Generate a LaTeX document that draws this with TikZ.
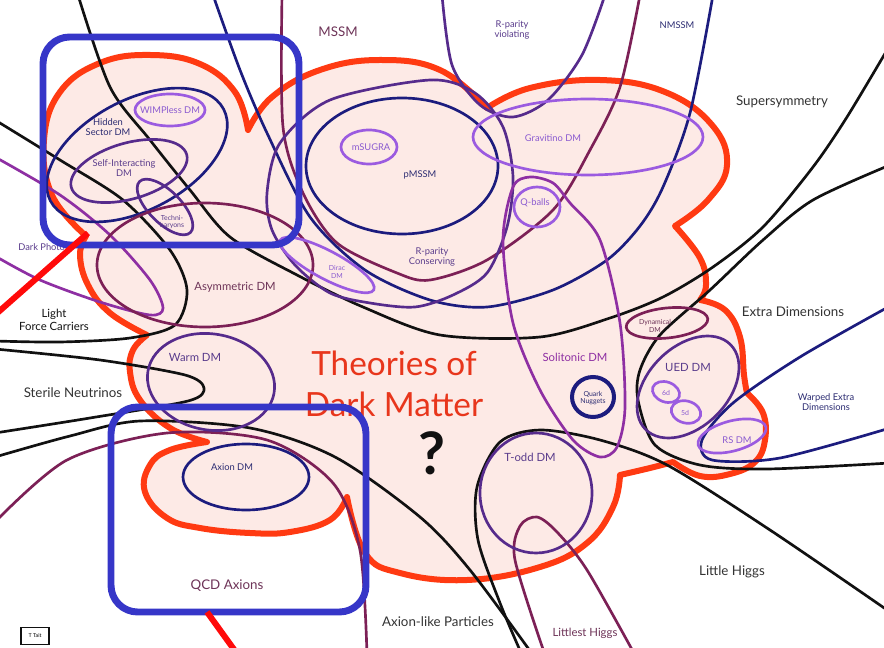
\documentclass[tikz,border=0pt]{standalone}
\usepackage{fontspec}
\setmainfont{Lato}
\usetikzlibrary{positioning}
\definecolor{ink}{HTML}{111111}
\definecolor{navy}{HTML}{1C1C7E}
\definecolor{indigo}{HTML}{562B8C}
\definecolor{lilac}{HTML}{9B5BE0}
\definecolor{plum}{HTML}{7C2056}
\definecolor{orchid}{HTML}{8E2FA3}
\definecolor{blobline}{HTML}{FF3A12}
\definecolor{blobfill}{HTML}{FDEAE6}
\definecolor{hilite}{HTML}{3636C8}
\definecolor{pointer}{HTML}{FF0A0A}
\definecolor{grey}{HTML}{333333}
\definecolor{txtplum}{HTML}{6E3458}
\definecolor{txtlilac}{HTML}{8A5AD0}
\definecolor{txtindigo}{HTML}{5A3C8C}
\definecolor{txtnavy}{HTML}{2C2C72}
\definecolor{txtred}{HTML}{E8361C}

\tikzset{
  wire/.style={line width=2pt},
  lblbig/.style={font=\fontsize{10}{11}\selectfont, text=grey, align=center, inner sep=0pt},
  lblmid/.style={font=\fontsize{8.5}{9.5}\selectfont, align=center, inner sep=0pt},
  lblsmall/.style={font=\fontsize{7}{7.8}\selectfont, align=center, inner sep=0pt},
  lbltiny/.style={font=\fontsize{5.2}{5.8}\selectfont, align=center, inner sep=0pt},
  hibox/.style={draw=hilite, line width=5.2pt, rounded corners=20pt},
  pointerline/.style={draw=pointer, line width=4.5pt},
}

\begin{document}
\begin{tikzpicture}[x=0.75pt,y=-0.75pt]
\useasboundingbox (0,0) rectangle (884,648);
\clip (0,0) rectangle (884,648);
\fill[white] (0,0) rectangle (884,648);

% the cloud
\path[draw=blobline, fill=blobfill, line width=4.5pt, line join=round]
  plot[smooth, tension=0.7] coordinates {(86,236) (52,195) (44,140) (60,92) (100,63) (150,55) (200,64) (235,92) (248,130)}
  -- plot[smooth, tension=0.7] coordinates {(248,130) (272,97) (320,70) (380,60) (440,70) (487,108)}
  -- plot[smooth, tension=0.7] coordinates {(487,108) (530,88) (600,80) (665,92) (712,125) (727,165) (708,200) (675,226)}
  -- plot[smooth, tension=0.7] coordinates {(675,226) (700,258) (706,285) (700,300)}
  -- plot[smooth, tension=0.7] coordinates {(700,300) (725,310) (740,337) (744,375) (747,393)}
  -- plot[smooth, tension=0.7] coordinates {(747,393) (763,413) (765,440) (755,462) (730,474) (700,476) (673,462)}
  -- plot[smooth, tension=0.7] coordinates {(673,462) (650,468) (620,475)}
  -- plot[smooth, tension=0.7] coordinates {(620,475) (613,507) (587,543) (540,567) (467,580) (400,573) (365,553) (347,497)}
  -- plot[smooth, tension=0.7] coordinates {(347,497) (330,520) (290,532) (250,533) (200,528) (167,518) (145,492) (150,465) (170,450) (207,442)}
  -- plot[smooth, tension=0.7] coordinates {(207,442) (170,428) (140,400) (130,372) (133,350) (147,335)}
  -- plot[smooth, tension=0.7] coordinates {(147,335) (110,313) (88,285) (80,255) (86,236)}
  -- cycle;

% black boundaries
\draw[wire, ink] plot[smooth] coordinates {(78,-5) (110,87) (150,140) (190,190) (230,237) (297,275) (363,307) (440,335) (540,337) (610,318) (663,297) (713,267) (763,227) (813,167) (847,117) (890,45)};
\draw[wire, ink] plot[smooth] coordinates {(890,165) (813,200) (763,240) (710,290) (660,335) (640,370) (638,400) (655,445) (700,465) (767,469) (890,463)};
\draw[wire, ink] plot[smooth] coordinates {(-5,120) (60,160) (123,200) (170,250) (187,290) (175,325) (130,338) (60,342) (-5,341)};
\draw[wire, ink] plot[smooth] coordinates {(-5,349) (100,360) (185,375) (204,388) (188,401) (90,418) (-5,433)};
\draw[wire, ink] plot[smooth] coordinates {(-5,457) (70,436) (140,421) (250,428) (335,457) (420,517) (470,570) (533,655)};
\draw[wire, ink] plot[smooth] coordinates {(522,655) (500,603) (478,540) (477,487) (500,442) (540,430) (600,440) (667,465) (770,530) (890,612)};

% navy boundaries
\draw[wire, navy] plot[smooth] coordinates {(213,-5) (240,70) (267,133) (310,217) (365,270) (430,300) (487,307) (553,290) (607,260) (640,226) (663,187) (690,113) (713,-5)};
\draw[wire, navy] plot[smooth] coordinates {(890,306) (800,357) (733,403) (702,440) (712,460) (780,458) (890,428)};

% plum boundaries
\draw[wire, plum] plot[smooth] coordinates {(282,-5) (283,127) (303,193) (337,243) (397,273) (430,280) (487,260) (553,210) (590,150) (620,87) (640,-5)};
\draw[wire, plum] plot[smooth] coordinates {(-5,522) (67,460) (167,433) (267,440) (333,483) (360,550) (367,655)};
\draw[wire, plum] plot[smooth] coordinates {(545,655) (515,560) (520,526) (537,517) (557,532) (587,570) (635,655)};

% indigo and orchid loops
\draw[wire, indigo] plot[smooth] coordinates {(442,-5) (452,65) (480,105) (513,117) (548,100) (582,55) (605,-5)};
\draw[wire, indigo] plot[smooth cycle] coordinates {(267,193) (280,143) (330,100) (430,80) (475,93) (503,127) (513,177) (507,227) (487,273) (453,295) (415,307) (370,303) (330,293) (295,265) (272,230)};
\draw[wire, orchid] plot[smooth] coordinates {(-5,157) (60,195) (110,235) (150,280) (163,308) (150,315) (100,302) (40,280) (-5,256)};
\draw[wire, orchid] plot[smooth cycle] coordinates {(513,187) (503,240) (513,323) (540,390) (573,440) (600,457) (617,447) (625,407) (620,323) (600,240) (570,203) (553,183) (530,177)};

% ellipses
\draw[wire, navy, rotate around={28:(137,155)}] (137,155) ellipse [x radius=98, y radius=55];
\draw[wire, lilac] (170,110) ellipse [x radius=35, y radius=16];
\draw[wire, indigo, rotate around={16:(129,171)}] (129,171) ellipse [x radius=60, y radius=28];
\draw[wire, indigo, rotate around={-45:(165,207)}] (165,207) ellipse [x radius=36, y radius=16];
\draw[wire, plum] (205,265) ellipse [x radius=108, y radius=62];
\draw[wire, indigo, rotate around={-10:(211,382)}] (211,382) ellipse [x radius=64, y radius=48];
\draw[wire, lilac, rotate around={-28:(327,265)}] (327,265) ellipse [x radius=53, y radius=14];
\draw[wire, navy] (402,166) ellipse [x radius=96, y radius=68];
\draw[wire, lilac] (369,147) ellipse [x radius=28, y radius=17];
\draw[wire, lilac] (588,137) ellipse [x radius=115, y radius=38];
\draw[wire, lilac] (537,207) ellipse [x radius=23, y radius=20];
\draw[line width=3pt, navy] (593,397) ellipse [x radius=21, y radius=20];
\draw[wire, indigo] (536,493) ellipse [x radius=56, y radius=60];
\draw[wire, navy] (246,477) ellipse [x radius=63, y radius=33];
\draw[wire, plum, rotate around={6:(667,323)}] (667,323) ellipse [x radius=41, y radius=15];
\draw[wire, indigo, rotate around={45:(688,387)}] (688,387) ellipse [x radius=60, y radius=40];
\draw[wire, lilac, rotate around={-20:(666,392)}] (666,392) ellipse [x radius=14, y radius=10];
\draw[wire, lilac, rotate around={-15:(686,412)}] (686,412) ellipse [x radius=15, y radius=11];
\draw[wire, lilac, rotate around={15:(732,436)}] (732,436) ellipse [x radius=35, y radius=15];

% labels
\node[lblbig, text=txtplum] (mssm) at (338,32) {MSSM};
\node[lblsmall, text=txtindigo] (rpv) at (512,30) {R-parity\\violating};
\node[lblsmall, text=txtnavy] (nmssm) at (677,25) {NMSSM};
\node[lblbig] (susy) at (782,102) {Supersymmetry};
\node[lblsmall, text=txtnavy] (hidden) at (108,127) {Hidden\\Sector DM};
\node[lblsmall, text=txtlilac] (wimpless) at (170,110) {WIMPless DM};
\node[lblsmall, text=txtindigo] (sidm) at (124,168) {Self-Interacting\\DM};
\node[lbltiny, text=txtindigo] (techni) at (172,222) {Techni-\\baryons};
\node[lblsmall, text=txtindigo, anchor=west] (dphoton) at (18,247) {Dark Photon};
\node[lblsmall, text=txtlilac] (msugra) at (371,147) {mSUGRA};
\node[lblsmall, text=txtnavy] (pmssm) at (420,175) {pMSSM};
\node[lblsmall, text=txtindigo] (rpc) at (432,257) {R-parity\\Conserving};
\node[lblsmall, text=txtlilac] (gravitino) at (553,138) {Gravitino DM};
\node[lblsmall, text=txtlilac] (qballs) at (535,203) {Q-balls};
\node[lbltiny, text=txtlilac] (dirac) at (337,272) {Dirac\\DM};
\node[lblmid, text=txtplum] (asym) at (235,287) {Asymmetric DM};
\node[lblmid, text=ink] (light) at (54,320) {Light\\Force Carriers};
\node[lblmid, text=txtindigo] (warm) at (195,357) {Warm DM};
\node[lblbig] (sterile) at (73,393) {Sterile Neutrinos};
\node[font=\fontsize{25}{31}\selectfont, text=txtred, align=center, inner sep=0pt] (title) at (394,384) {Theories of\\Dark Matter};
\node[font=\fontsize{44}{44}\selectfont\bfseries, text=ink, inner sep=0pt] (q) at (432,453) {?};
\node[lblmid, text=orchid] (soliton) at (575,357) {Solitonic DM};
\node[lbltiny, text=txtnavy] (nuggets) at (593,398) {Quark\\Nuggets};
\node[lblmid, text=txtindigo] (todd) at (530,457) {T-odd DM};
\node[lbltiny, text=txtplum] (dynamical) at (655,326) {Dynamical\\DM};
\node[lblbig] (extra) at (793,312) {Extra Dimensions};
\node[lblmid, text=txtindigo] (ued) at (688,367) {UED DM};
\node[lbltiny, text=txtlilac] (six) at (666,393) {6d};
\node[lbltiny, text=txtlilac] (five) at (685,413) {5d};
\node[lblsmall, text=txtlilac] (rs) at (737,440) {RS DM};
\node[lblsmall, text=txtnavy] (warped) at (826,402) {Warped Extra\\Dimensions};
\node[lblsmall, text=txtnavy] (axion) at (232,467) {Axion DM};
\node[lblbig, text=txtplum] (qcd) at (227,586) {QCD Axions};
\node[lblbig] (alp) at (438,622) {Axion-like Particles};
\node[lblbig] (littleh) at (732,572) {Little Higgs};
\node[lblmid, text=txtplum] (littlest) at (585,633) {Littlest Higgs};
\node[draw=ink, line width=0.9pt, font=\fontsize{4}{4}\selectfont, minimum width=21pt, minimum height=13pt, inner sep=1pt] (tait) at (35,636) {T Tait};

% highlight boxes and pointers
\draw[hibox] (43,37) rectangle (299,245);
\draw[hibox] (111,407) rectangle (366,612);
\coordinate (cuspA) at (88,233);
\coordinate (offA) at (-5,315);
\coordinate (boxB) at (207,612);
\coordinate (offB) at (238,655);
\draw[pointerline] (cuspA) -- (offA);
\draw[pointerline] (boxB) -- (offB);
\end{tikzpicture}
\end{document}
